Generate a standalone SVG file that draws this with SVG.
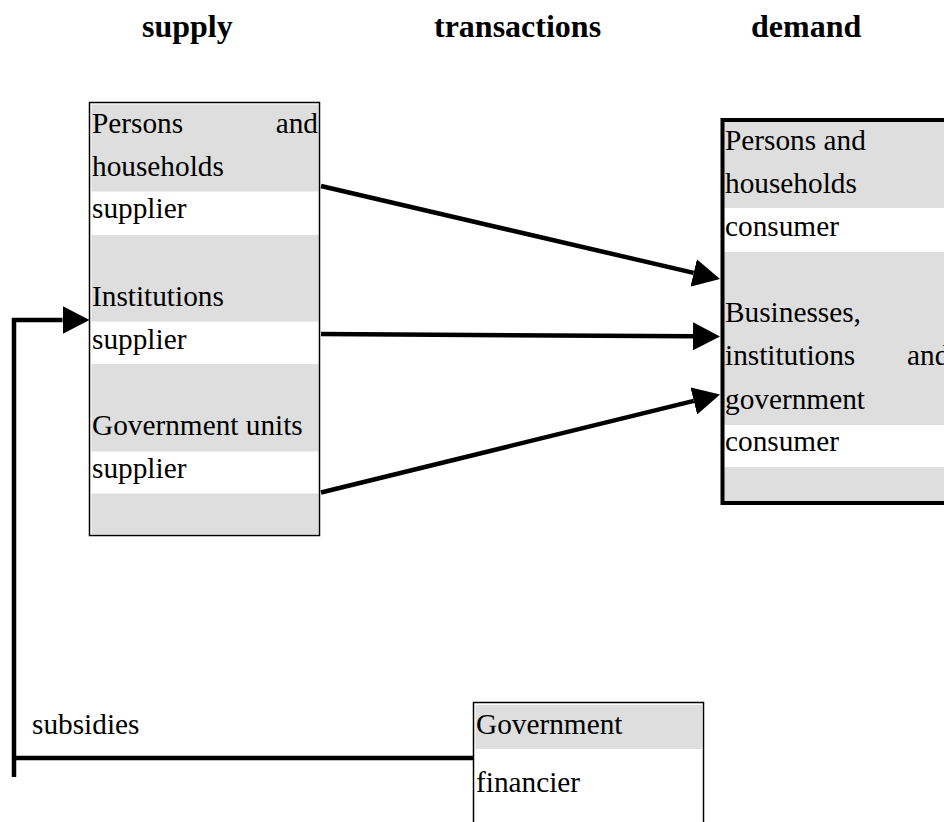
<svg xmlns="http://www.w3.org/2000/svg" width="944" height="822" viewBox="0 0 944 822">
  <style>
    .title { font-family: "Liberation Serif", "Times New Roman", serif; font-weight: bold; font-size: 32px; fill: #000; }
    .txt { font-family: "Liberation Serif", "Times New Roman", serif; font-size: 29.3px; fill: #000; }
    .band { fill: #dedede; }
    .box { fill: none; stroke: #000; }
    .thin { stroke-width: 1.5; }
    .thick { stroke-width: 4; }
    .conn { fill: none; stroke: #000; stroke-width: 4.5; }
    .arrow { marker-end: url(#head); }
  </style>
  <defs>
    <marker id="head" viewBox="0 0 27 28" refX="0" refY="14" markerWidth="27" markerHeight="28" markerUnits="userSpaceOnUse" orient="auto">
      <path d="M0,0 L27,14 L0,28 Z" fill="#000"/>
    </marker>
  </defs>
  <rect width="944" height="822" fill="#fff"/>

  <!-- column headings -->
  <g id="headings">
    <text class="title" x="142" y="37">supply</text>
    <text class="title" x="434" y="37">transactions</text>
    <text class="title" x="751" y="37">demand</text>
  </g>

  <!-- supply side -->
  <g id="supply">
    <rect class="band" x="91.5" y="104.5" width="227" height="87"/>
    <rect class="band" x="91.5" y="235" width="227" height="86.6"/>
    <rect class="band" x="91.5" y="364" width="227" height="87.5"/>
    <rect class="band" x="91.5" y="493.5" width="227" height="40.5"/>
    <rect class="box thin" x="89.5" y="102.5" width="230" height="433"/>
    <text class="txt" x="92" y="132.5">Persons</text>
    <text class="txt" x="318" y="132.5" text-anchor="end">and</text>
    <text class="txt" x="92" y="176">households</text>
    <text class="txt" x="92" y="218">supplier</text>
    <text class="txt" x="92" y="305.5">Institutions</text>
    <text class="txt" x="92" y="349">supplier</text>
    <text class="txt" x="92" y="435">Government units</text>
    <text class="txt" x="92" y="478">supplier</text>
  </g>

  <!-- demand side -->
  <g id="demand">
    <rect class="band" x="724" y="122" width="230" height="86"/>
    <rect class="band" x="724" y="252" width="230" height="173"/>
    <rect class="band" x="724" y="467" width="230" height="34"/>
    <rect class="box thick" x="722.5" y="120" width="260" height="383"/>
    <text class="txt" x="725" y="150">Persons and</text>
    <text class="txt" x="725" y="193">households</text>
    <text class="txt" x="725" y="235.5">consumer</text>
    <text class="txt" x="725" y="322">Businesses,</text>
    <text class="txt" x="725" y="365">institutions</text>
    <text class="txt" x="907" y="365">and</text>
    <text class="txt" x="725" y="408.5">government</text>
    <text class="txt" x="725" y="451">consumer</text>
  </g>

  <!-- financing government -->
  <g id="government">
    <rect class="band" x="475.5" y="705" width="226.5" height="44"/>
    <rect class="box thin" x="473.5" y="702.5" width="230" height="140"/>
    <text class="txt" x="476" y="733.5">Government</text>
    <text class="txt" x="476" y="791.5">financier</text>
  </g>

  <!-- flows between the parties -->
  <g id="connectors">
    <line class="conn arrow" x1="321" y1="186" x2="693.7" y2="272.9"/>
    <line class="conn arrow" x1="321" y1="334" x2="693" y2="336.3"/>
    <line class="conn arrow" x1="321" y1="492.5" x2="693.8" y2="400.9"/>
    <path class="conn arrow" d="M14,777 V320 H62.5"/>
    <path class="conn" d="M12,758 H473.5"/>
    <text class="txt" x="32" y="734">subsidies</text>
  </g>
</svg>
